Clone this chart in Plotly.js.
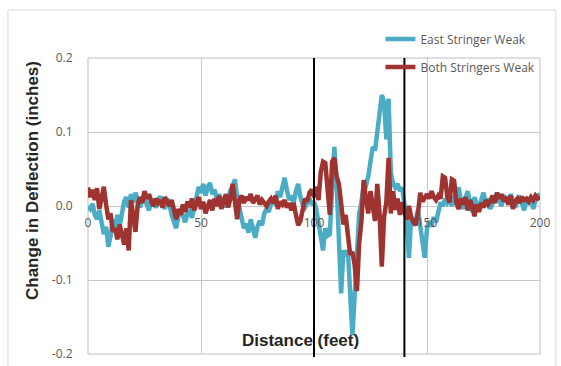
<!DOCTYPE html>
<html>
<head>
<meta charset="utf-8">
<script src="https://cdn.plot.ly/plotly-3.0.1.min.js"></script>
<style>html,body{margin:0;padding:0;background:#fff;}#chart{width:561px;height:366px;}</style>
</head>
<body>
<div id="chart"></div>
<script>
const distance = [0,1,2,3,4,5,6,7,8,9,10,11,12,13,14,15,16,17,18,19,20,21,22,23,24,25,26,27,28,29,30,31,32,33,34,35,36,37,38,39,40,41,42,43,44,45,46,47,48,49,50,51,52,53,54,55,56,57,58,59,60,61,62,63,64,65,66,67,68,69,70,71,72,73,74,75,76,77,78,79,80,81,82,83,84,85,86,87,88,89,90,91,92,93,94,95,96,97,98,99,100,101,102,103,104,105,106,107,108,109,110,111,112,113,114,115,116,117,118,119,120,121,122,123,124,125,126,127,128,129,130,131,132,133,134,135,136,137,138,139,140,141,142,143,144,145,146,147,148,149,150,151,152,153,154,155,156,157,158,159,160,161,162,163,164,165,166,167,168,169,170,171,172,173,174,175,176,177,178,179,180,181,182,183,184,185,186,187,188,189,190,191,192,193,194,195,196,197,198,199,200];

const eastStringerWeak = [
 0.000,-0.004, 0.003,-0.012,-0.018,-0.006,-0.022,-0.038,-0.028,-0.055,
-0.040,-0.018,-0.032,-0.012,-0.027,-0.008, 0.006, 0.012,-0.002, 0.016,
 0.004, 0.018, 0.008,-0.002, 0.009, 0.014, 0.002,-0.006, 0.010, 0.004,
-0.002, 0.008, 0.013, 0.004,-0.004, 0.010, 0.003,-0.012,-0.022,-0.030,
-0.014,-0.004,-0.013,-0.022,-0.010,-0.007,-0.016,-0.004, 0.012, 0.026,
 0.018, 0.030, 0.014, 0.026, 0.031, 0.016, 0.022, 0.008, 0.016, 0.004,
 0.012,-0.002, 0.010, 0.021, 0.026, 0.036, 0.010,-0.006,-0.022,-0.030,
-0.024,-0.036,-0.018,-0.030,-0.043,-0.028,-0.020,-0.026,-0.010,-0.004,
-0.008, 0.004, 0.006, 0.002, 0.020, 0.012, 0.026, 0.038, 0.022, 0.008,
 0.014, 0.004, 0.020, 0.030, 0.012, 0.002,-0.002, 0.006, 0.010, 0.002,
 0.006,-0.004,-0.022,-0.048,-0.060,-0.030,-0.040,-0.038, 0.010, 0.080,
 0.030,-0.035,-0.118,-0.060,-0.068,-0.060,-0.110,-0.175,-0.120,-0.060,
-0.010, 0.005, 0.030, 0.028, 0.040, 0.060, 0.080, 0.075, 0.100, 0.120,
 0.150, 0.140, 0.090, 0.145, 0.045, 0.030, 0.025, 0.030, 0.020, 0.025,
-0.005,-0.020,-0.070,-0.015,-0.025,-0.020,-0.005,-0.030,-0.050,-0.070,
-0.030,-0.020,-0.028,-0.015,-0.022,-0.008, 0.005, 0.000, 0.010, 0.004,
 0.008, 0.000, 0.012, 0.015, 0.025, 0.008,-0.004, 0.010, 0.020, 0.005,
-0.008, 0.012, 0.002,-0.006, 0.008, 0.018, 0.004, 0.010,-0.004, 0.004,
 0.012, 0.018, 0.006, 0.000, 0.014, 0.010, 0.002, 0.016, 0.008,-0.002,
 0.006, 0.014, 0.004,-0.006, 0.010, 0.002, 0.012,-0.004, 0.008, 0.014,
 0.016];

const bothStringersWeak = [
 0.025, 0.012, 0.022, 0.008, 0.024,-0.004, 0.010, 0.026, 0.002,-0.018,
-0.010,-0.035,-0.030,-0.045,-0.025,-0.040,-0.052,-0.030,-0.060, 0.008,
-0.012,-0.035, 0.002, 0.012, 0.004, 0.020, 0.010, 0.016, 0.006, 0.000,
 0.010, 0.004, 0.008,-0.002, 0.012, 0.006, 0.000, 0.008,-0.006,-0.018,
-0.004,-0.012, 0.002,-0.008, 0.006,-0.002, 0.010,-0.006, 0.004, 0.012,
-0.004, 0.006,-0.010, 0.002, 0.008,-0.006, 0.010, 0.000, 0.014,-0.004,
 0.006, 0.016,-0.002, 0.010, 0.030, 0.004,-0.018, 0.008, 0.014, 0.004,
 0.012, 0.008, 0.016, 0.004, 0.010, 0.014, 0.002, 0.008, 0.004, 0.000,
 0.006, 0.010, 0.004, 0.014,-0.004, 0.006, 0.002, 0.008,-0.002, 0.004,
-0.006, 0.004,-0.012,-0.026,-0.020,-0.008, 0.010, 0.006, 0.018, 0.022,
 0.012, 0.026, 0.008, 0.046, 0.060, 0.058, 0.030,-0.012, 0.060, 0.065,
 0.040, 0.030, 0.004,-0.025,-0.012,-0.045,-0.066,-0.062,-0.080,-0.115,
-0.050,-0.020, 0.035, 0.010,-0.010, 0.020,-0.005,-0.020, 0.030,-0.010,
-0.082,-0.015, 0.005, 0.065,-0.010, 0.020,-0.005, 0.010,-0.012, 0.005,
-0.008,-0.018, 0.000,-0.015,-0.022,-0.026,-0.010, 0.018, 0.006, 0.012,
 0.016, 0.010, 0.020, 0.012, 0.008, 0.014, 0.010, 0.040, 0.038, 0.012,
 0.005, 0.036, 0.034, 0.004,-0.004, 0.010, 0.002, 0.012,-0.006, 0.008,
 0.000,-0.014, 0.002,-0.008, 0.004,-0.002, 0.008, 0.002, 0.006, 0.014,
 0.004, 0.018, 0.010, 0.016, 0.006, 0.012, 0.002, 0.014,-0.004, 0.006,
 0.010, 0.004, 0.012, 0.008, 0.010, 0.006, 0.012, 0.008, 0.014, 0.010,
 0.012];

const seriesNames = ['East Stringer Weak', 'Both Stringers Weak'];
const markerLines = [100, 140];
const xTickVals = [0, 50, 100, 150, 200];
const xTickText = ['0', '50', '100', '150', '200'];
const yTickVals = [-0.2, -0.1, 0, 0.1, 0.2];
const yTickText = ['-0.2', '-0.1', '0.0', '0.1', '0.2'];

const tickFont = {family: 'Open Sans, sans-serif', size: 12, color: '#595959'};

const traces = [
  {x: distance, y: eastStringerWeak, name: seriesNames[0], type: 'scatter', mode: 'lines',
   line: {color: '#4bacc6', width: 4.5}, legendgroup: 'a'},
  {x: distance, y: bothStringersWeak, name: seriesNames[1], type: 'scatter', mode: 'lines',
   line: {color: '#9e3330', width: 4.5}, legendgroup: 'b'}
];

const shapes = markerLines.map(v => ({
  type: 'line', xref: 'x', yref: 'paper', x0: v, x1: v, y0: -0.01, y1: 1,
  line: {color: '#000', width: 2}
}));
shapes.push({type: 'rect', xref: 'paper', yref: 'paper', x0: 0, x1: 1, y0: 0, y1: 1,
  line: {color: '#bfbfbf', width: 1}, layer: 'below'});
shapes.push({type: 'rect', xref: 'paper', yref: 'paper', x0: -0.177, x1: 1.035, y0: -0.2, y1: 1.162,
  line: {color: '#d9d9d9', width: 1}, layer: 'below'});

const layout = {
  width: 561, height: 366,
  margin: {l: 88, r: 21, t: 58, b: 12},
  paper_bgcolor: '#fff', plot_bgcolor: '#fff',
  showlegend: true,
  legend: {x: 0.647, xanchor: 'left', y: 1.113, yanchor: 'top', bgcolor: 'rgba(0,0,0,0)',
           font: {family: 'Open Sans, sans-serif', size: 12, color: '#595959'}, tracegroupgap: 9},
  xaxis: {range: [0, 200], tickvals: xTickVals, ticktext: xTickText, anchor: 'free', position: 0.5,
          showgrid: true, gridcolor: '#c8c8c8', zeroline: false, showline: false,
          ticks: 'outside', ticklen: 6, tickcolor: 'rgba(0,0,0,0)', tickfont: tickFont, fixedrange: true},
  yaxis: {range: [-0.2, 0.2], tickvals: yTickVals, ticktext: yTickText,
          showgrid: true, gridcolor: '#c8c8c8', zeroline: false, showline: false,
          ticks: 'outside', ticklen: 12, tickcolor: 'rgba(0,0,0,0)', tickfont: tickFont, fixedrange: true},
  shapes: shapes,
  annotations: [
    {text: 'Distance (feet)', xref: 'paper', yref: 'paper', x: (300 - 88) / 452, y: (354 - 340) / 296,
     xanchor: 'center', yanchor: 'middle', showarrow: false,
     font: {family: 'Liberation Sans, Arial, sans-serif', size: 17, color: '#262626', weight: 'bold'}},
    {text: 'Change in Deflection (inches)', xref: 'paper', yref: 'paper', x: (32 - 88) / 452, y: (354 - 181) / 296,
     xanchor: 'center', yanchor: 'middle', showarrow: false, textangle: -90,
     font: {family: 'Liberation Sans, Arial, sans-serif', size: 17, color: '#262626', weight: 'bold'}}
  ]
};

Plotly.newPlot('chart', traces, layout, {displayModeBar: false, staticPlot: true});
</script>
</body>
</html>
